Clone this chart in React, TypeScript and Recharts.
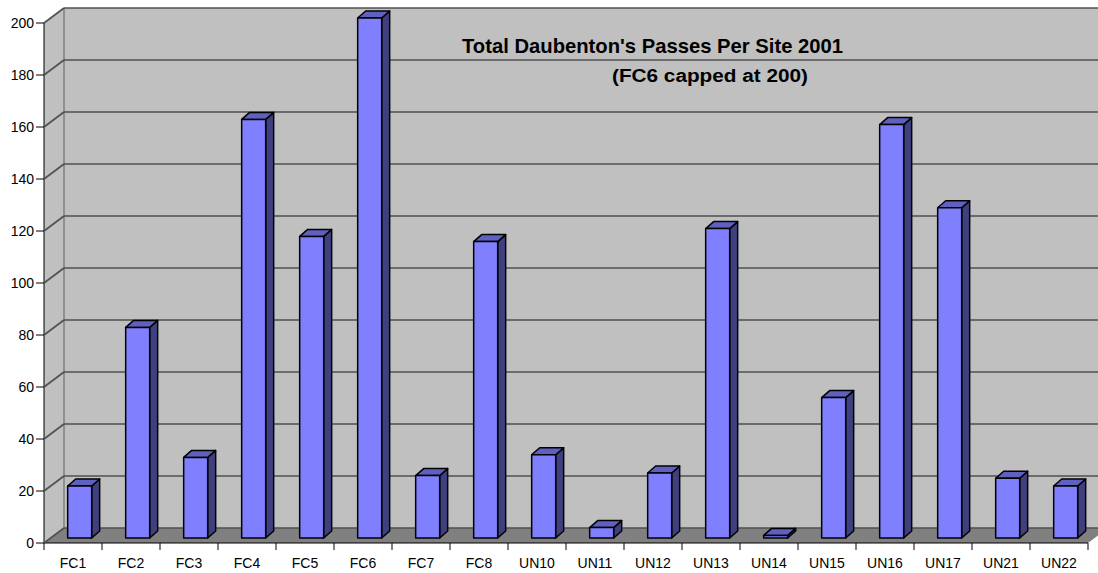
import React from 'react'
import { BarChart, Bar, XAxis, YAxis, CartesianGrid } from 'recharts'

// Daubenton's bat passes recorded per site, 2001 (FC6 capped at 200)
const sites = [
  'FC1', 'FC2', 'FC3', 'FC4', 'FC5', 'FC6', 'FC7', 'FC8', 'UN10',
  'UN11', 'UN12', 'UN13', 'UN14', 'UN15', 'UN16', 'UN17', 'UN21', 'UN22',
]
const passes = [20, 81, 31, 161, 116, 200, 24, 114, 32, 4, 25, 119, 1, 54, 159, 127, 23, 20]
const yTicks = [0, 20, 40, 60, 80, 100, 120, 140, 160, 180, 200]

const data = sites.map((site, i) => ({ site, passes: passes[i] }))

// layout of the fake 3D box
const W = 1098
const H = 573
const FRONT_X = 44
const DEPTH_X = 20
const DEPTH_Y = 15
const PLOT_LEFT = FRONT_X + DEPTH_X / 3
const BAND = 58
const PLOT_RIGHT = PLOT_LEFT + BAND * sites.length
const PLOT_TOP = 18
const PLOT_BOTTOM = 538
const FRONT_DX = -DEPTH_X / 3
const FRONT_DY = DEPTH_Y / 3
const BACK_DX = (DEPTH_X * 2) / 3
const BACK_DY = -(DEPTH_Y * 2) / 3

const FONT = '"Liberation Sans", Arial, sans-serif'
const GRID = '#505050'

function Bar3D(props: any) {
  const { x, y, width, height } = props
  const dx = 8
  const dy = 7
  return (
    <g stroke="#000" strokeWidth={1.5} strokeLinejoin="round">
      <polygon
        points={`${x + width},${y} ${x + width + dx},${y - dy} ${x + width + dx},${y + height - dy} ${x + width},${y + height}`}
        fill="#404080"
      />
      <polygon
        points={`${x},${y} ${x + dx},${y - dy} ${x + width + dx},${y - dy} ${x + width},${y}`}
        fill="#6060c0"
      />
      <rect x={x} y={y} width={width} height={height} fill="#8080ff" />
    </g>
  )
}

function GridLine(props: any) {
  const { x1, y1 } = props
  const by = y1 + BACK_DY
  const bx = x1 + BACK_DX
  return (
    <g key={props.key}>
      <line x1={x1 + FRONT_DX} y1={y1 + FRONT_DY} x2={bx} y2={by} stroke={GRID} strokeWidth={1.6} />
      <line x1={bx} y1={by} x2={W + 20} y2={by} stroke={GRID} strokeWidth={1.6} />
    </g>
  )
}

function YTick(props: any) {
  const { y, payload } = props
  const fy = y + FRONT_DY
  return (
    <g>
      <line x1={FRONT_X - 8} y1={fy} x2={FRONT_X} y2={fy} stroke="#000" strokeWidth={1} />
      <text x={FRONT_X - 10} y={fy + 5} textAnchor="end" fontSize={14} fontFamily={FONT} fill="#000">
        {payload.value}
      </text>
    </g>
  )
}

function XTick(props: any) {
  const { x, payload } = props
  const fx = x + FRONT_DX
  const fy = PLOT_BOTTOM + FRONT_DY
  const last = payload.value === sites[sites.length - 1]
  return (
    <g>
      <line x1={fx - BAND / 2} y1={fy} x2={fx - BAND / 2} y2={fy + 7} stroke="#000" strokeWidth={1} />
      {last && <line x1={fx + BAND / 2} y1={fy} x2={fx + BAND / 2} y2={fy + 7} stroke="#000" strokeWidth={1} />}
      <text x={fx} y={fy + 25} textAnchor="middle" fontSize={14} fontFamily={FONT} fill="#000">
        {payload.value}
      </text>
    </g>
  )
}

export default function App() {
  const frontTop = PLOT_TOP + FRONT_DY
  const frontBottom = PLOT_BOTTOM + FRONT_DY
  const backLeft = PLOT_LEFT + BACK_DX
  const backTop = PLOT_TOP + BACK_DY
  const backBottom = PLOT_BOTTOM + BACK_DY
  const frontRight = PLOT_RIGHT + FRONT_DX

  return (
    <div style={{ position: 'absolute', left: 0, top: 0, width: W, height: H, background: '#fff', overflow: 'hidden' }}>
      {/* walls and floor */}
      <svg width={W} height={H} style={{ position: 'absolute', left: 0, top: 0 }}>
        <polygon
          points={`${FRONT_X},${frontTop} ${backLeft},${backTop} ${backLeft},${backBottom} ${FRONT_X},${frontBottom}`}
          fill="#c0c0c0"
        />
        <rect x={backLeft} y={backTop} width={W - backLeft + 10} height={backBottom - backTop} fill="#c0c0c0" />
        <polygon
          points={`${FRONT_X},${frontBottom} ${backLeft},${backBottom} ${frontRight + DEPTH_X},${backBottom} ${frontRight},${frontBottom}`}
          fill="#808080"
        />
        <line x1={backLeft} y1={backTop} x2={backLeft} y2={backBottom} stroke="#808080" strokeWidth={1.5} />
        <line x1={FRONT_X} y1={frontTop} x2={FRONT_X} y2={frontBottom} stroke="#000" strokeWidth={1} />
        <line x1={FRONT_X} y1={frontBottom} x2={frontRight} y2={frontBottom} stroke="#000" strokeWidth={1} />
      </svg>

      <div style={{ position: 'absolute', left: 0, top: 0 }}>
        <BarChart
          width={W}
          height={H}
          data={data}
          margin={{ top: PLOT_TOP, right: W - PLOT_RIGHT, left: 0, bottom: 0 }}
        >
          <CartesianGrid vertical={false} horizontal={(p: any) => <GridLine {...p} />} />
          <XAxis
            dataKey="site"
            height={H - PLOT_BOTTOM}
            interval={0}
            axisLine={false}
            tickLine={false}
            tick={<XTick />}
          />
          <YAxis
            type="number"
            domain={[0, 200]}
            ticks={yTicks}
            width={PLOT_LEFT}
            interval={0}
            axisLine={false}
            tickLine={false}
            tick={<YTick />}
          />
          <Bar dataKey="passes" barSize={24} shape={<Bar3D />} isAnimationActive={false} />
        </BarChart>
      </div>

      <svg width={W} height={H} style={{ position: 'absolute', left: 0, top: 0, pointerEvents: 'none' }}>
        <text
          x={462}
          y={53}
          fontSize={21}
          fontWeight="bold"
          fontFamily={FONT}
          fill="#000"
          textLength={381}
          lengthAdjust="spacingAndGlyphs"
        >
          Total Daubenton's Passes Per Site 2001
        </text>
        <text
          x={612}
          y={82}
          fontSize={18}
          fontWeight="bold"
          fontFamily={FONT}
          fill="#000"
          textLength={196}
          lengthAdjust="spacingAndGlyphs"
        >
          (FC6 capped at 200)
        </text>
      </svg>
    </div>
  )
}
